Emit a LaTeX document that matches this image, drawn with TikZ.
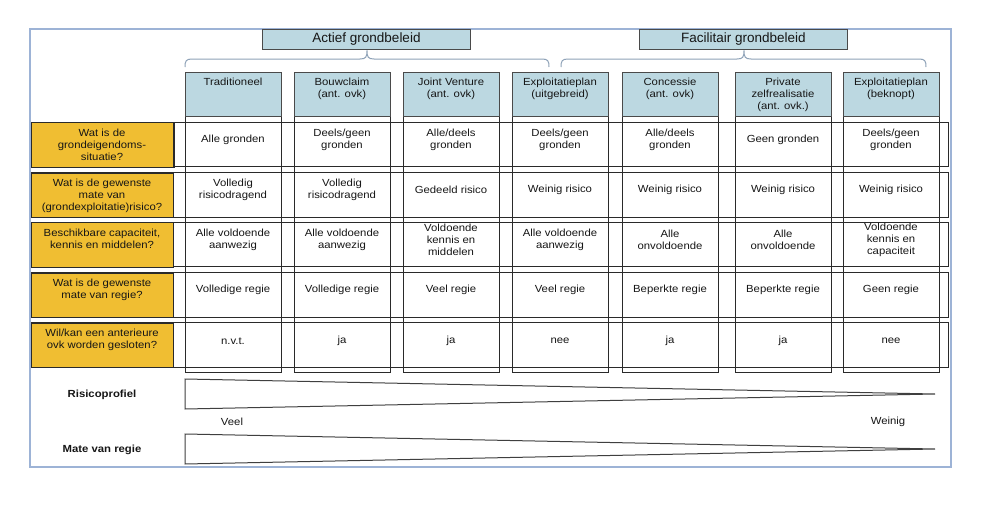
\documentclass[tikz,border=0pt]{standalone}
\usepackage{fontspec}
\setmainfont{Liberation Sans}[FakeStretch=1.1]
\newfontfamily\headfont{Liberation Sans}
\definecolor{hdrblue}{HTML}{BCD8E1}
\definecolor{qyellow}{HTML}{F0BE32}
\definecolor{framebl}{HTML}{9DB3D6}
\definecolor{bracebl}{HTML}{8EA2B8}
\definecolor{linegr}{HTML}{2A2A2A}
\definecolor{txt}{HTML}{161616}
\begin{document}
\begin{tikzpicture}[x=1pt,y=-1pt,
  cellbox/.style={draw=linegr, line width=1pt},
  hdrbox/.style={draw=linegr!85, fill=hdrblue, line width=1pt},
  groupbox/.style={draw=linegr!85, fill=hdrblue, line width=1pt, minimum width=208pt, minimum height=19.5pt, inner sep=0pt, font=\headfont\fontsize{13.5}{15}\selectfont, text=txt},
  qbox/.style={draw=linegr, fill=qyellow, line width=1pt, minimum width=142pt, minimum height=44.5pt, anchor=north west, inner sep=0pt},
  celltext/.style={inner sep=0pt, align=center, font=\fontsize{10.3}{12}\selectfont, text=txt},
  hdrtext/.style={celltext, anchor=north},
  qtext/.style={celltext, anchor=north},
  boldlbl/.style={inner sep=0pt, font=\bfseries\fontsize{10.3}{12}\selectfont, text=txt},
  plainlbl/.style={inner sep=0pt, font=\fontsize{10.3}{12}\selectfont, text=txt},
  wedge/.style={draw=linegr!90, line width=1pt, line join=miter},
  bracestyle/.style={draw=bracebl, line width=1pt}
]
\useasboundingbox (0,0) rectangle (994,522);
\fill[white] (0,0) rectangle (994,522);

% outer frame
\draw[framebl, line width=1.2pt] (30,29) rectangle (951,467);

% columns
\foreach \L in {185,294,403,512,622,735,843}{
  \draw[cellbox, fill=white] (\L,72) rectangle ++(96,300);
}
% rows
\foreach \T in {122,172.5,222,272.5,322.5}{
  \draw[cellbox] (31,\T) rectangle (948,\T+44.5);
}
% column header boxes
\foreach \L in {185,294,403,512,622,735,843}{
  \draw[hdrbox] (\L,72) rectangle ++(96,44);
}

% group headers
\node[groupbox] (actief) at (366.5,39.5) {Actief grondbeleid};
\node[groupbox] (facil) at (743.5,39.5) {Facilitair grondbeleid};

% braces
\draw[bracestyle] (185,67) .. controls (185,61) and (186,59) .. (192,59) -- (360,59)
  .. controls (366,59) and (367,57) .. (367,50.5)
  .. controls (367,57) and (368,59) .. (374,59) -- (542,59)
  .. controls (548,59) and (549,61) .. (549,67);
\draw[bracestyle] (561,67) .. controls (561,61) and (562,59) .. (568,59) -- (737,59)
  .. controls (743,59) and (744,57) .. (744,50.5)
  .. controls (744,57) and (745,59) .. (751,59) -- (919,59)
  .. controls (925,59) and (926,61) .. (926,67);

% column header texts
\node[hdrtext] (h1) at (233,78) {Traditioneel};
\node[hdrtext] (h2) at (342,78) {Bouwclaim\\(ant. ovk)};
\node[hdrtext] (h3) at (451,78) {Joint Venture\\(ant. ovk)};
\node[hdrtext] (h4) at (560,78) {Exploitatieplan\\(uitgebreid)};
\node[hdrtext] (h5) at (670,78) {Concessie\\(ant. ovk)};
\node[hdrtext] (h6) at (783,78) {Private\\zelfrealisatie\\(ant. ovk.)};
\node[hdrtext] (h7) at (891,78) {Exploitatieplan\\(beknopt)};

% question boxes
\node[qbox] (q1) at (31,122) {};
\node[qbox] (q2) at (31,172.5) {};
\node[qbox] (q3) at (31,222) {};
\node[qbox] (q4) at (31,272.5) {};
\node[qbox] (q5) at (31,322.5) {};
\draw[linegr, line width=1.4pt] (q1.north east) -- (q1.south east);
\node[qtext] (q1t) at (102,128.5) {Wat is de\\grondeigendoms-\\situatie?};
\node[qtext] (q2t) at (102,179) {Wat is de gewenste\\mate van\\(grondexploitatie)risico?};
\node[qtext] (q3t) at (102,228.5) {Beschikbare capaciteit,\\kennis en middelen?};
\node[qtext] (q4t) at (102,279) {Wat is de gewenste\\mate van regie?};
\node[qtext] (q5t) at (102,329) {Wil/kan een anterieure\\ovk worden gesloten?};

% row 1
\node[celltext] (c11) at (233,140) {Alle gronden};
\node[celltext] (c12) at (342,140) {Deels/geen\\gronden};
\node[celltext] (c13) at (451,140) {Alle/deels\\gronden};
\node[celltext] (c14) at (560,140) {Deels/geen\\gronden};
\node[celltext] (c15) at (670,140) {Alle/deels\\gronden};
\node[celltext] (c16) at (783,140) {Geen gronden};
\node[celltext] (c17) at (891,140) {Deels/geen\\gronden};
% row 2
\node[celltext] (c21) at (233,190) {Volledig\\risicodragend};
\node[celltext] (c22) at (342,190) {Volledig\\risicodragend};
\node[celltext] (c23) at (451,190) {Gedeeld risico};
\node[celltext] (c24) at (560,190) {Weinig risico};
\node[celltext] (c25) at (670,190) {Weinig risico};
\node[celltext] (c26) at (783,190) {Weinig risico};
\node[celltext] (c27) at (891,190) {Weinig risico};
% row 3
\node[celltext] (c31) at (233,240) {Alle voldoende\\aanwezig};
\node[celltext] (c32) at (342,240) {Alle voldoende\\aanwezig};
\node[celltext] (c33) at (451,240) {Voldoende\\kennis en\\middelen};
\node[celltext] (c34) at (560,240) {Alle voldoende\\aanwezig};
\node[celltext] (c35) at (670,240) {Alle\\onvoldoende};
\node[celltext] (c36) at (783,240) {Alle\\onvoldoende};
\node[celltext] (c37) at (891,240) {Voldoende\\kennis en\\capaciteit};
% row 4
\node[celltext] (c41) at (233,290) {Volledige regie};
\node[celltext] (c42) at (342,290) {Volledige regie};
\node[celltext] (c43) at (451,290) {Veel regie};
\node[celltext] (c44) at (560,290) {Veel regie};
\node[celltext] (c45) at (670,290) {Beperkte regie};
\node[celltext] (c46) at (783,290) {Beperkte regie};
\node[celltext] (c47) at (891,290) {Geen regie};
% row 5
\node[celltext] (c51) at (233,341) {n.v.t.};
\node[celltext] (c52) at (342,341) {ja};
\node[celltext] (c53) at (451,341) {ja};
\node[celltext] (c54) at (560,341) {nee};
\node[celltext] (c55) at (670,341) {ja};
\node[celltext] (c56) at (783,341) {ja};
\node[celltext] (c57) at (891,341) {nee};

% wedges
\draw[wedge] (185,379) -- (935,394) -- (185,409) -- cycle;
\draw[wedge] (185,434) -- (935,449) -- (185,464) -- cycle;

% labels
\node[boldlbl] (risico) at (102,395) {Risicoprofiel};
\node[boldlbl] (regie) at (102,450) {Mate van regie};
\node[plainlbl] (veel) at (232,422) {Veel};
\node[plainlbl] (weinig) at (888,422) {Weinig};
\end{tikzpicture}
\end{document}
